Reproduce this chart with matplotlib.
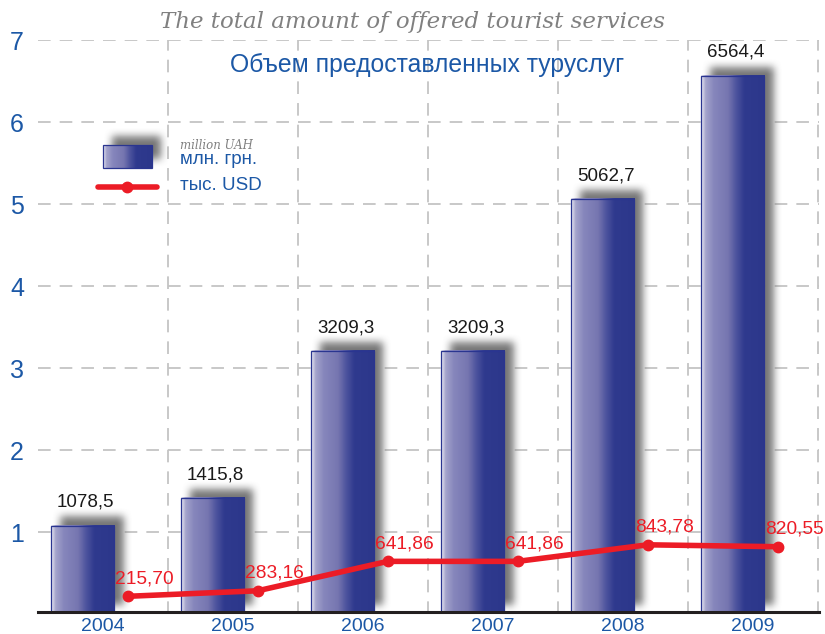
import numpy as np
import matplotlib
matplotlib.use("Agg")
import matplotlib.pyplot as plt
from matplotlib.colors import LinearSegmentedColormap

years = ["2004", "2005", "2006", "2007", "2008", "2009"]
uah_mln = [1078.5, 1415.8, 3209.3, 3209.3, 5062.7, 6564.4]
usd_ths = [215.70, 283.16, 641.86, 641.86, 843.78, 820.55]

BLUE = "#1c58a6"
RED = "#ec1c26"
plt.rcParams["font.family"] = ["Liberation Sans", "DejaVu Sans"]

bar_cmap = LinearSegmentedColormap.from_list(
    "barfill",
    [(0.0, "#eeeef6"), (0.07, "#a4a4cc"), (0.2, "#8686bc"), (0.42, "#7676b0"),
     (0.55, "#4e549e"), (0.68, "#2f3a8e"), (1.0, "#2c378b")])

PX_X = 1 / 130.0   # data units per pixel, x
PX_Y = 1 / 82.0    # data units per pixel, y
X0_PX, Y0_PX = 38, 614   # pixel position of the axes origin


def px(xp, yp):
    return (xp - X0_PX) * PX_X - 0.5, (Y0_PX - yp) * PX_Y


def blur1d(a, k, axis):
    kern = np.ones(k) / k
    return np.apply_along_axis(lambda r: np.convolve(r, kern, mode="same"), axis, a)


def shadow(ax, x0, x1, y0, y1, ox=9, oy=9, pad=18):
    # soft grey box shifted up and right, sits under a bar
    wpx = int(round((x1 - x0) / PX_X))
    hpx = int(round((y1 - y0) / PX_Y))
    nx = wpx + ox + 2 * pad
    ny = hpx + oy + 2 * pad
    m = np.zeros((ny, nx))
    m[pad + oy:pad + oy + hpx, pad + ox:pad + ox + wpx] = 1.0
    for _ in range(2):
        m = blur1d(m, 9, 0)
        m = blur1d(m, 9, 1)
    rgba = np.zeros((ny, nx, 4))
    rgba[..., :3] = 0.47
    rgba[..., 3] = np.clip(m * 1.0, 0, 1)
    ax.imshow(rgba, extent=[x0 - pad * PX_X, x0 + (nx - pad) * PX_X,
                            y0 - pad * PX_Y, y0 + (ny - pad) * PX_Y],
              origin="lower", aspect="auto", interpolation="bilinear", zorder=1)


def grad_bar(ax, x0, x1, y0, y1):
    ax.imshow(np.linspace(0, 1, 128).reshape(1, -1), cmap=bar_cmap,
              extent=[x0, x1, y0, y1], aspect="auto", interpolation="bilinear", zorder=2)
    ax.add_patch(plt.Rectangle((x0, y0), x1 - x0, y1 - y0, fill=False,
                               ec="#2a3590", lw=0.9, zorder=3))


fig = plt.figure(figsize=(8.25, 6.34), dpi=100)
ax = fig.add_axes([X0_PX / 825, 1 - Y0_PX / 634, 781.3 / 825, 7 * 82 / 634])

x = np.arange(len(years))
bar_w = 0.485
bar_off = -0.155
line_off = 0.19

for xi, v in zip(x, uah_mln):
    h = v / 1000
    b0, b1 = xi + bar_off - bar_w / 2, xi + bar_off + bar_w / 2
    shadow(ax, b0, b1, 0, h)
    grad_bar(ax, b0, b1, 0, h)
    ax.annotate(f"{v:.1f}".replace(".", ","), (xi + bar_off, h), xytext=(2, 13.5),
                textcoords="offset points", ha="center", va="baseline",
                fontsize=13.5, color="#1a1a1a", zorder=5)

usd = np.array(usd_ths) / 1000
ax.plot(x + line_off, usd, color=RED, lw=4, marker="o", ms=7.5, zorder=6,
        solid_capstyle="round")
for xi, v in zip(x, usd_ths):
    ax.annotate(f"{v:.2f}".replace(".", ","), (xi + line_off, v / 1000), xytext=(12, 9.5),
                textcoords="offset points", ha="center", va="baseline",
                fontsize=13.8, color=RED, zorder=7, annotation_clip=False)

# legend drawn by hand in the upper left corner
lx0, ly1 = px(103, 145)
lx1, ly0 = px(152, 168)
shadow(ax, lx0, lx1, ly0, ly1)
grad_bar(ax, lx0, lx1, ly0, ly1)
ax_l, ly = px(98, 187)
ax_r, _ = px(157, 187)
ax.plot([ax_l, ax_r], [ly, ly], color=RED, lw=4, solid_capstyle="round", zorder=6)
ax.plot([px(127, 187)[0]], [ly], "o", color=RED, ms=7.5, zorder=6)
tx, ty = px(180, 146)
ax.text(tx, ty, "million UAH", fontsize=8.5, style="italic",
        family="DejaVu Serif", color="#808080", va="center", zorder=7)
ax.text(tx, px(180, 160)[1], "млн. грн.", fontsize=13.5, color=BLUE, va="center", zorder=7)
ax.text(tx, px(180, 186)[1], "тыс. USD", fontsize=13.5, color=BLUE, va="center", zorder=7)

sx, sy = px(427, 65)
ax.text(sx, sy, "Объем предоставленных туруслуг", fontsize=17.8,
        color=BLUE, ha="center", va="center", zorder=7)
fig.text(0.4994, 1 - 22 / 634, "The total amount of offered tourist services",
         fontsize=16.5, style="italic", family="DejaVu Serif", color="#808080",
         ha="center", va="center")

ax.set_xlim(-0.5, 5.51)
ax.set_ylim(0, 7)
ax.set_xticks(x)
ax.set_xticklabels(years)
ax.set_xticks(x + 0.5, minor=True)
ax.set_yticks(range(1, 8))
ax.tick_params(axis="x", which="both", length=0, pad=5, labelsize=14, labelcolor=BLUE)
ax.tick_params(axis="y", length=0, pad=10, labelsize=18, labelcolor=BLUE)
ax.grid(axis="y", which="major", color="#c4c4c4", lw=1.3, ls=(0, (7, 5)), zorder=0)
ax.grid(axis="x", which="minor", color="#c4c4c4", lw=1.3, ls=(0, (7, 5)), zorder=0)
ax.set_axisbelow(True)
for s in ["top", "right", "left"]:
    ax.spines[s].set_visible(False)
ax.spines["bottom"].set_color("#231f20")
ax.spines["bottom"].set_linewidth(2.2)
ax.spines["bottom"].set_position(("data", 2.5 * PX_Y))
ax.spines["bottom"].set_zorder(8)

fig.savefig("out.png", dpi=100)
